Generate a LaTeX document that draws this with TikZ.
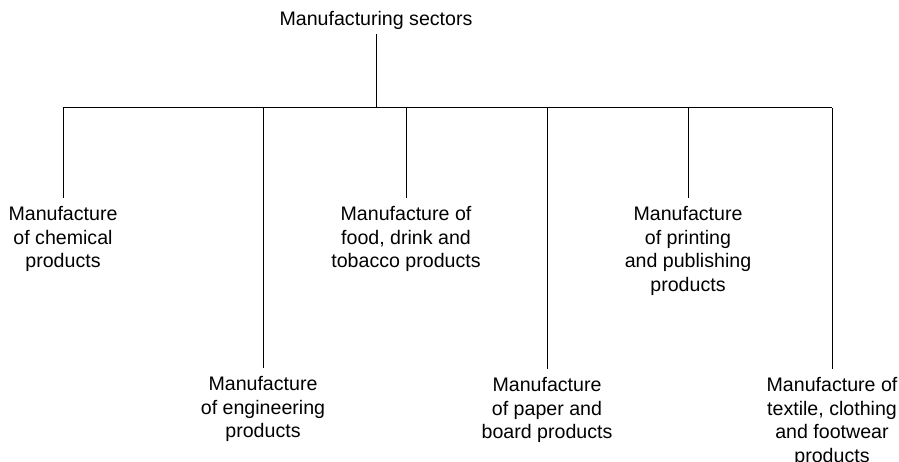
\documentclass[tikz,border=0pt]{standalone}
\usepackage{fontspec}
\setmainfont{Liberation Sans}
\begin{document}
\begin{tikzpicture}[x=1pt, y=-1pt, line width=1pt,
    sector/.style={align=center, inner xsep=0pt, inner ysep=8pt, anchor=north,
      font=\fontsize{19.6}{23.5}\selectfont}]
  \useasboundingbox (0, 0) rectangle (899, 462);
  \node[sector, inner ysep=3pt, anchor=base] (top) at (376, 26) {Manufacturing sectors};
  \coordinate (busL) at (63, 108);
  \coordinate (busR) at (832, 108);
  \node[sector] (chem) at (63, 198)  {Manufacture\\of chemical\\products};
  \node[sector] (eng)  at (263, 368) {Manufacture\\of engineering\\products};
  \node[sector] (food) at (406, 198) {Manufacture of\\food, drink and\\tobacco products};
  \node[sector] (pap)  at (547, 369) {Manufacture\\of paper and\\board products};
  \node[sector] (prnt) at (688, 198) {Manufacture\\of printing\\and publishing\\products};
  \node[sector] (tex)  at (832, 369) {Manufacture of\\textile, clothing\\and footwear\\products};
  \draw (top.south) -- (top.south |- busL);
  \draw (busL) -- (busR);
  \foreach \n in {chem, eng, food, pap, prnt, tex}
    \draw (\n.north) -- (\n.north |- busL);
\end{tikzpicture}
\end{document}
